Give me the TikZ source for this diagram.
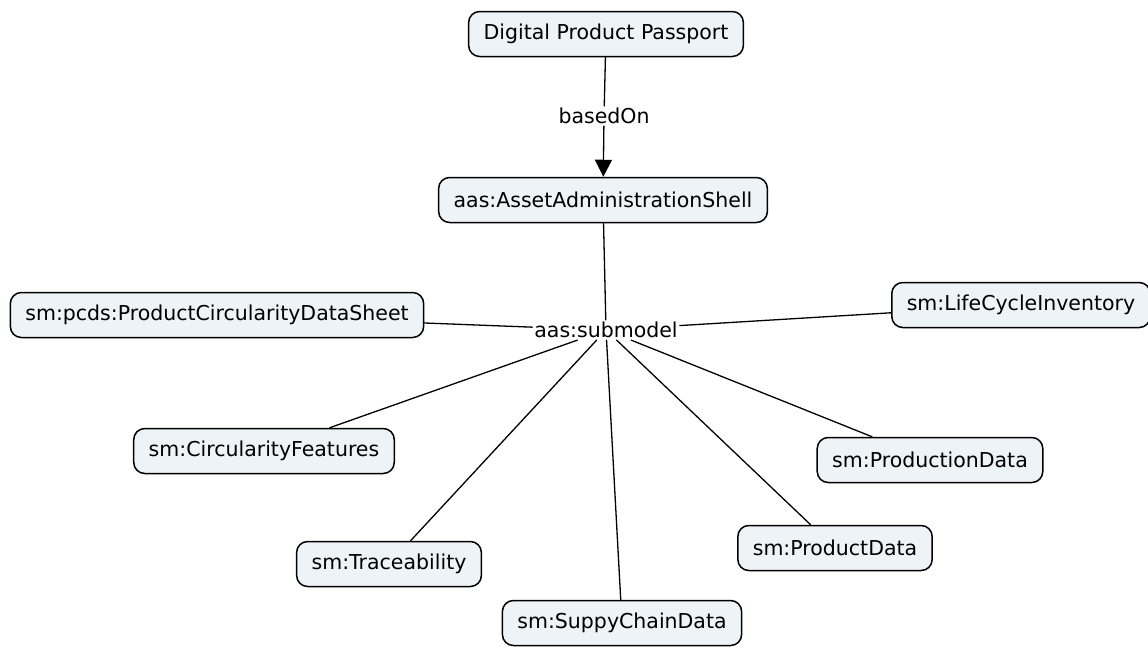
\documentclass[tikz,border=0pt]{standalone}
\usepackage{fontspec}
\setmainfont{DejaVu Sans}
\usetikzlibrary{arrows.meta}
\definecolor{cmapfill}{HTML}{EDF3F6}
\begin{document}
\begin{tikzpicture}[x=1pt, y=-1pt, font=\fontsize{20.5}{24}\selectfont, line join=round, line cap=round,
  concept/.style={draw, line width=1.5pt, fill=cmapfill, rounded corners=11pt, inner xsep=15pt, minimum height=45pt},
  linkword/.style={inner sep=2pt},
  >={Triangle[width=17pt,length=17pt]}]
\useasboundingbox (0,0) rectangle (1148,646);
% concepts
\node[concept](dpp) at (606,34) {Digital Product Passport};
\node[concept](aas) at (603,200) {aas:AssetAdministrationShell};
\node[concept](pcds) at (217,315) {sm:pcds:ProductCircularityDataSheet};
\node[concept](lci) at (1021,305) {sm:LifeCycleInventory};
\node[concept](cf) at (264,451) {sm:CircularityFeatures};
\node[concept](prd) at (930,460) {sm:ProductionData};
\node[concept](tr) at (389,564) {sm:Traceability};
\node[concept](pd) at (835,548) {sm:ProductData};
\node[concept](scd) at (622,623) {sm:SuppyChainData};
% linking phrases
\node[linkword](based) at (604,116) {basedOn};
\node[linkword](sub) at (606,330) {aas:submodel};
\draw[line width=1.3pt](dpp)--(based);
\draw[line width=1.3pt,->](based)--(aas);
\draw[line width=1.3pt](aas)--(sub);
\foreach \c in {pcds,lci,cf,prd,tr,pd,scd}
\draw[line width=1.3pt](sub)--(\c);
\end{tikzpicture}
\end{document}
